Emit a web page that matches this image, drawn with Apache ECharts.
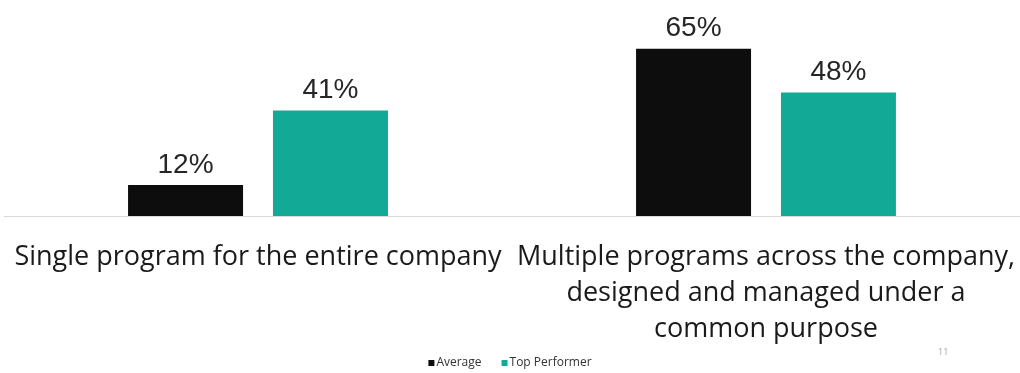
<!DOCTYPE html>
<html>
<head>
<meta charset="utf-8">
<script src="https://cdn.jsdelivr.net/npm/echarts@6/dist/echarts.min.js"></script>
<style>html,body{margin:0;padding:0;background:#fff}#c{width:1020px;height:373px}</style>
</head>
<body>
<div id="c"></div>
<script>
const categories = [
  "Single program for the entire company",
  "Multiple programs across the company,\ndesigned and managed under a\ncommon purpose"
];
const averageValues = [12, 65];
const topPerformerValues = [41, 48];
const seriesNames = ["Average", "Top Performer"];
const slideNumber = "11";

const chart = echarts.init(document.getElementById('c'));
const valueLabel = {
  show: true, position: 'top', distance: 6,
  formatter: p => p.value + '%',
  fontFamily: 'Liberation Sans, Arial, sans-serif', fontSize: 28, color: '#262626'
};
chart.setOption({
  animation: false,
  grid: { left: 4, right: 0, top: 10, bottom: 157, containLabel: false },
  legend: {
    bottom: -1, left: 'center', itemWidth: 6, itemHeight: 6, itemGap: 20,
    icon: 'rect',
    textStyle: { fontFamily: 'Open Sans, sans-serif', fontSize: 12, color: '#333333', padding: [0,0,0,-3] },
    data: seriesNames
  },
  graphic: [{
    type: 'text', left: 938, top: 348,
    style: { text: slideNumber, fontSize: 9, fill: '#a6a6a6', fontFamily: 'Open Sans, sans-serif' }
  }],
  xAxis: {
    type: 'category', data: categories,
    axisLine: { lineStyle: { color: '#d9d9d9', width: 1 } },
    axisTick: { show: false },
    axisLabel: {
      interval: 0, margin: 23, fontFamily: 'Open Sans, sans-serif', fontSize: 27,
      color: '#1a1a1a', lineHeight: 36
    }
  },
  yAxis: {
    type: 'value', min: 0, max: 80, show: false, splitLine: { show: false }
  },
  series: [
    { name: seriesNames[0], type: 'bar', data: averageValues, barWidth: 115, barGap: '26%',
      itemStyle: { color: '#0d0d0d' }, label: valueLabel },
    { name: seriesNames[1], type: 'bar', data: topPerformerValues, barWidth: 115,
      itemStyle: { color: '#12a996' }, label: valueLabel }
  ]
});
</script>
</body>
</html>
